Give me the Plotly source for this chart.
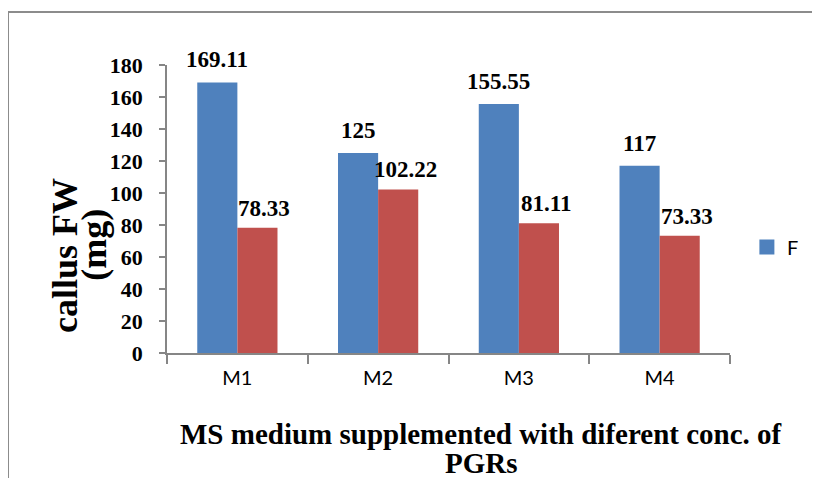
import plotly.graph_objects as go

categories = ["M1", "M2", "M3", "M4"]
series_f = [169.11, 125, 155.55, 117]
series_2 = [78.33, 102.22, 81.11, 73.33]
y_ticks = [0, 20, 40, 60, 80, 100, 120, 140, 160, 180]

BLUE = "#4F81BD"
RED = "#C0504D"
AXIS = "#868686"
SERIF = "Liberation Serif, Times New Roman, serif"
SANS = "Lato, Carlito, Calibri, sans-serif"

fig = go.Figure()
fig.add_trace(go.Bar(x=categories, y=series_f, name="F", marker_color=BLUE,
                     marker_line_width=0, showlegend=False))
fig.add_trace(go.Bar(x=categories, y=series_2, name="", marker_color=RED,
                     marker_line_width=0, showlegend=False))
# legend entry with a larger square swatch
fig.add_trace(go.Scatter(x=[None], y=[None], mode="markers", name="F",
                         marker=dict(symbol="square", size=15, color=BLUE),
                         showlegend=True))

annotations = []
for c, v in zip(categories, series_f):
    annotations.append(dict(x=c, y=v, xref="x", yref="y", text=f"<b>{v:g}</b>",
                            showarrow=False, yanchor="bottom", xshift=-20, yshift=8,
                            font=dict(family=SERIF, size=23, color="black")))
for c, v in zip(categories, series_2):
    annotations.append(dict(x=c, y=v, xref="x", yref="y", text=f"<b>{v:g}</b>",
                            showarrow=False, yanchor="bottom", xshift=27, yshift=5,
                            font=dict(family=SERIF, size=23, color="black")))

# y-axis title (two tightly spaced lines)
annotations.append(dict(x=-0.181, y=0.337, xref="paper", yref="paper",
                        text="<b>callus FW</b>", textangle=-90, showarrow=False,
                        xanchor="center", yanchor="middle",
                        font=dict(family=SERIF, size=36, color="black")))
annotations.append(dict(x=-0.130, y=0.375, xref="paper", yref="paper",
                        text="<b>(mg)</b>", textangle=-90, showarrow=False,
                        xanchor="center", yanchor="middle",
                        font=dict(family=SERIF, size=36, color="black")))
# x-axis title
annotations.append(dict(x=0.558, y=-0.281, xref="paper", yref="paper",
                        text="<b>MS medium supplemented with diferent conc. of</b>",
                        showarrow=False, xanchor="center", yanchor="middle",
                        font=dict(family=SERIF, size=29, color="black")))
annotations.append(dict(x=0.558, y=-0.382, xref="paper", yref="paper",
                        text="<b>PGRs</b>",
                        showarrow=False, xanchor="center", yanchor="middle",
                        font=dict(family=SERIF, size=29, color="black")))

shapes = [
    dict(type="line", xref="paper", yref="paper", x0=-0.2824, x1=-0.2824, y0=-0.6, y1=1.184,
         line=dict(color="#8c8c8c", width=2)),
    dict(type="line", xref="paper", yref="paper", x0=-0.2824, x1=1.3, y0=1.184, y1=1.184,
         line=dict(color="#8c8c8c", width=2)),
]

fig.update_layout(
    width=812, height=470,
    margin=dict(l=159, r=90, t=57, b=125, autoexpand=False),
    paper_bgcolor="white", plot_bgcolor="white",
    barmode="group", bargap=0.43, bargroupgap=0,
    showlegend=True,
    legend=dict(x=1.03, y=0.368, xanchor="left", yanchor="middle",
                font=dict(family=SANS, size=20, color="black"),
                itemwidth=30, bgcolor="rgba(0,0,0,0)"),
    annotations=annotations,
    shapes=shapes,
    xaxis=dict(showline=True, linecolor=AXIS, linewidth=1.5, ticks="outside",
               tickson="boundaries", ticklen=9, tickcolor=AXIS, tickwidth=1.5,
               tickfont=dict(family=SANS, size=20, color="black"),
               ticklabelstandoff=6,
               showgrid=False, zeroline=False),
    yaxis=dict(range=[0, 180], tickvals=y_ticks, showline=True, linecolor=AXIS,
               linewidth=1.5, ticks="outside", ticklen=6, tickcolor=AXIS, tickwidth=1.5,
               tickfont=dict(family=SERIF, size=22, color="black", weight="bold"),
               ticklabelstandoff=12,
               showgrid=False, zeroline=False),
)

fig.write_html("out.html")
